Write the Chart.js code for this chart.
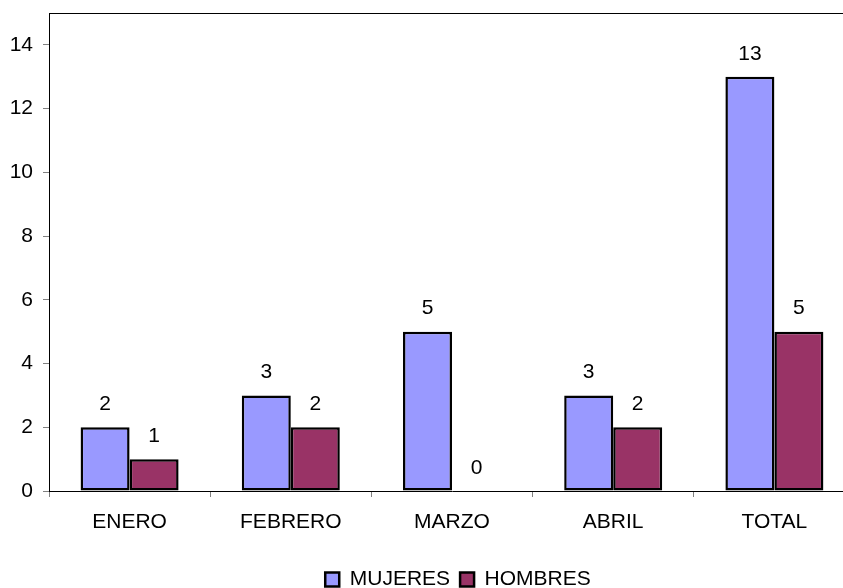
<!DOCTYPE html>
<html>
<head>
<meta charset="utf-8">
<script src="https://cdn.jsdelivr.net/npm/chart.js@4/dist/chart.umd.min.js"></script>
<style>
html, body { margin: 0; padding: 0; overflow: hidden; background: #fff; width: 843px; height: 588px; }
canvas { display: block; }
</style>
</head>
<body>
<canvas id="c" width="916" height="600"></canvas>
<script>
const categories = ['ENERO', 'FEBRERO', 'MARZO', 'ABRIL', 'TOTAL'];
const mujeres = [2, 3, 5, 3, 13];
const hombres = [1, 2, 0, 2, 5];
const seriesNames = ['MUJERES', 'HOMBRES'];
const yTicks = [0, 2, 4, 6, 8, 10, 12, 14];

const FONT = '"Liberation Sans", Arial, sans-serif';
const FS = 21;

const valueLabels = {
  id: 'valueLabels',
  afterDatasetsDraw(chart) {
    const ctx = chart.ctx;
    ctx.save();
    ctx.font = FS + 'px ' + FONT;
    ctx.fillStyle = '#000';
    ctx.textAlign = 'center';
    ctx.textBaseline = 'middle';
    chart.data.datasets.forEach((ds, di) => {
      const meta = chart.getDatasetMeta(di);
      meta.data.forEach((bar, i) => {
        ctx.fillText(String(ds.data[i]), bar.x, bar.y - 23);
      });
    });
    ctx.restore();
  }
};

const frame = {
  id: 'frame',
  afterLayout(chart) {
    if (chart.legend) {
      chart.legend.left = 0;
      chart.legend.right = chart.width;
      chart.legend.width = chart.width;
    }
  },
  beforeDatasetsDraw(chart) {
    const a = chart.chartArea;
    const ctx = chart.ctx;
    ctx.save();
    ctx.strokeStyle = '#000';
    ctx.lineWidth = 1;
    ctx.beginPath();
    ctx.moveTo(a.left, a.top + 0.5);
    ctx.lineTo(a.right, a.top + 0.5);
    ctx.lineTo(a.right, a.bottom);
    ctx.stroke();
    ctx.restore();
  }
};

new Chart(document.getElementById('c'), {
  type: 'bar',
  data: {
    labels: categories,
    datasets: [
      { label: seriesNames[0], data: mujeres, backgroundColor: '#9999FF', borderColor: '#000', borderWidth: 2.5, borderSkipped: false },
      { label: seriesNames[1], data: hombres, backgroundColor: '#993366', borderColor: '#000', borderWidth: 2.5, borderSkipped: false }
    ]
  },
  options: {
    responsive: false,
    animation: false,
    devicePixelRatio: 1,
    layout: { padding: { top: 13, right: 61, left: 0, bottom: 0 } },
    datasets: { bar: { barPercentage: 1, categoryPercentage: 0.608 } },
    plugins: {
      tooltip: { enabled: false },
      legend: {
        position: 'bottom',
        labels: {
          font: { family: FONT, size: FS },
          color: '#000',
          boxWidth: 14,
          boxHeight: 14,
          padding: 10
        }
      }
    },
    scales: {
      x: {
        afterFit(s) { s.height = 68; s.paddingLeft = 0; s.paddingRight = 0; },
        grid: { drawOnChartArea: false, offset: true, tickLength: 6, color: '#808080', tickColor: '#808080' },
        border: { color: '#000', width: 1 },
        ticks: { font: { family: FONT, size: FS }, color: '#000', padding: 13, maxRotation: 0 }
      },
      y: {
        min: 0,
        max: 15,
        afterFit(s) { s.width = 49; s.paddingTop = 0; s.paddingBottom = 0; },
        afterBuildTicks(s) { s.ticks = yTicks.map(v => ({ value: v })); },
        grid: { drawOnChartArea: false, tickLength: 6, color: '#808080', tickColor: '#808080' },
        border: { color: '#000', width: 1 },
        ticks: { stepSize: 2, font: { family: FONT, size: FS }, color: '#000', padding: 10 }
      }
    }
  },
  plugins: [valueLabels, frame]
});
</script>
</body>
</html>
